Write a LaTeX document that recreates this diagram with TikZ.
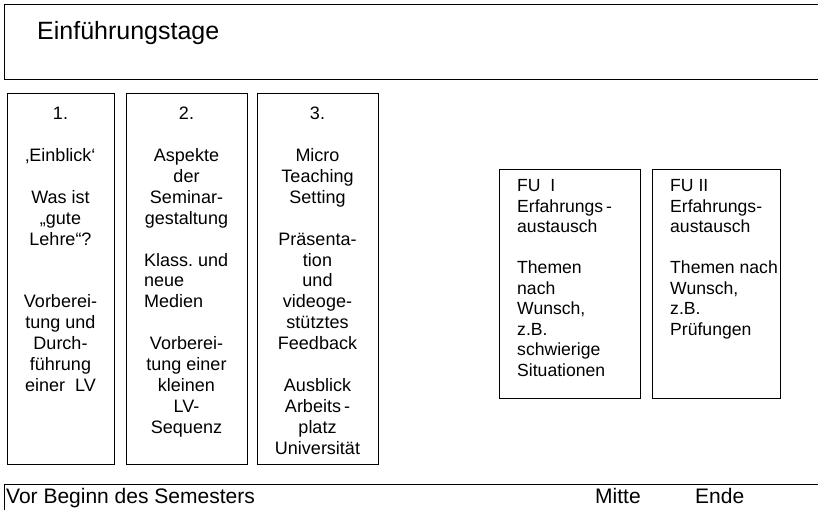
\documentclass[tikz,border=0pt]{standalone}
\usepackage{fontspec}
\setmainfont{Liberation Sans}
\usepackage{tikz}

\begin{document}
\begin{tikzpicture}[x=1pt, y=-1pt,
  frame/.style={draw, line width=1.3pt, inner sep=0pt, anchor=north west},
  txt/.style={font=\fontsize{18}{20.9}\selectfont, inner sep=0pt,
              anchor=base, align=center},
  ltxt/.style={txt, anchor=base west, align=left},
  futxt/.style={ltxt, font=\fontsize{17.6}{20.5}\selectfont},
  btxt/.style={font=\fontsize{21}{24}\selectfont, inner sep=0pt, anchor=base west}
]
\clip (0,0) rectangle (818,510);
\fill[white] (0,0) rectangle (818,510);

% Kopf
\node[frame, minimum width=830pt, minimum height=75pt] (head) at (4,4) {};
\node[font=\fontsize{25}{29}\selectfont, inner sep=0pt, anchor=base west]
     (title) at (37,39.5) {Einführungstage};

% Tage 1-3 (Anker: Grundlinie der letzten Zeile)
\node[frame, minimum width=107pt, minimum height=371pt] (tag1) at (7,93) {};
\node[frame, minimum width=121pt, minimum height=371pt] (tag2) at (126,93) {};
\node[frame, minimum width=121pt, minimum height=371pt] (tag3) at (257,93) {};

\node[txt] (inh1) at (60.5,391.4)
  {1.\\[20.9pt]‚Einblick‘\\[20.9pt]Was ist\\„gute\\Lehre“?\\[41.8pt]%
   Vorberei-\\tung und\\Durch-\\führung\\einer\ \ LV};

\node[txt] (inh2a) at (186.5,224.2)
  {2.\\[20.9pt]Aspekte\\der\\Seminar-\\gestaltung};
\node[ltxt] (inh2b) at (144,307.8) {Klass.\ und\\neue\\Medien};
\node[txt] (inh2c) at (186.5,433.2)
  {Vorberei-\\tung einer\\kleinen\\LV-\\Sequenz};

\node[txt] (inh3) at (317.5,454.1)
  {3.\\[20.9pt]Micro\\Teaching\\Setting\\[20.9pt]Präsenta-\\tion\\und\\videoge-\\%
   stütztes\\Feedback\\[20.9pt]Ausblick\\Arbeits\,-\\platz\\Universität};

% Follow-up
\node[frame, minimum width=141pt, minimum height=229pt] (fu1) at (499,169) {};
\node[frame, minimum width=128pt, minimum height=229pt] (fu2) at (652,169) {};

\node[futxt] (inhfu1) at (517,376)
  {FU\ \ I\\Erfahrungs\,-\\austausch\\[20.5pt]Themen\\nach\\Wunsch,\\z.B.\\%
   schwierige\\Situationen};
\node[futxt] (inhfu2) at (670,335)
  {FU II\\Erfahrungs-\\austausch\\[20.5pt]Themen nach\\Wunsch,\\z.B.\\Prüfungen};

% Zeitleiste
\node[frame, minimum width=830pt, minimum height=40pt] (zeit) at (4,484) {};
\node[btxt] (vor)   at (6,503)   {Vor Beginn des Semesters};
\node[btxt] (mitte) at (595,503) {Mitte};
\node[btxt] (ende)  at (695,503) {Ende};

\end{tikzpicture}
\end{document}
